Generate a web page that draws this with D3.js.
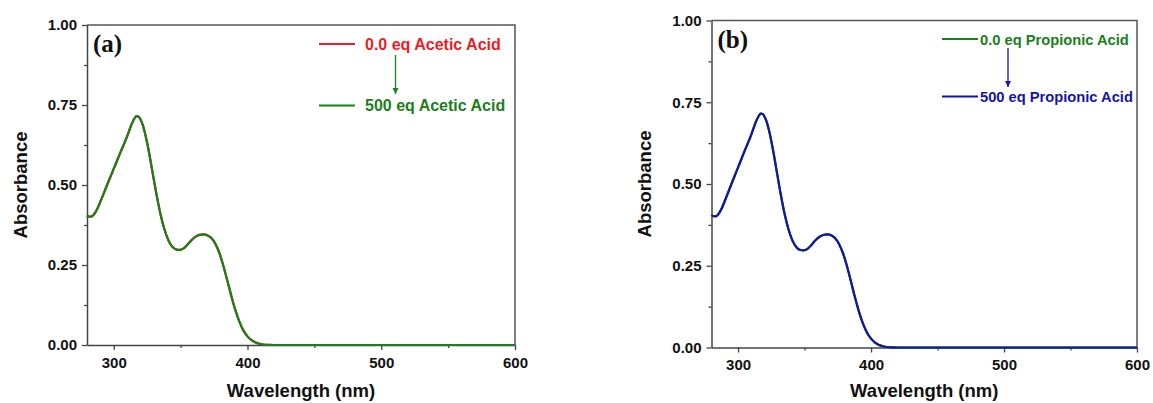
<!DOCTYPE html>
<html>
<head>
<meta charset="utf-8">
<script src="https://cdn.jsdelivr.net/npm/d3@7"></script>
<style>
  body { margin: 0; background: #fff; }
  svg { display: block; }
  text { font-family: Arial, "Liberation Sans", sans-serif; font-weight: bold; }
</style>
</head>
<body>
<svg id="chart" width="1153" height="403"></svg>
<script>
// UV-vis absorption spectra: wavelength (nm) vs absorbance
const wavelength = [280, 281, 283, 285, 288, 290, 295, 300, 305, 310, 312, 314, 315.5, 317, 318.5, 320, 321.5, 323, 326,
  329, 332, 335, 338, 341, 344, 347, 349, 352, 355, 358, 361, 364, 367, 370, 373, 376, 379, 382, 385, 388, 391, 394,
  397, 400, 403, 406, 409, 412, 416, 420, 450, 500, 550, 600];
const absAcetic0 = [0.405, 0.402, 0.401, 0.407, 0.428, 0.448, 0.5, 0.551, 0.602, 0.652, 0.675, 0.696, 0.708, 0.715,
  0.714, 0.705, 0.69, 0.668, 0.61, 0.54, 0.47, 0.408, 0.36, 0.326, 0.306, 0.298, 0.297, 0.301, 0.313, 0.327, 0.338,
  0.344, 0.346, 0.343, 0.334, 0.316, 0.287, 0.247, 0.2, 0.152, 0.108, 0.072, 0.045, 0.027, 0.015, 0.008, 0.004,
  0.0015, 0.0004, 0, 0, 0, 0, 0];
const absAcetic500 = [0.405, 0.402, 0.401, 0.407, 0.428, 0.448, 0.5, 0.551, 0.602, 0.652, 0.675, 0.696, 0.708, 0.715,
  0.714, 0.705, 0.69, 0.668, 0.61, 0.54, 0.47, 0.408, 0.36, 0.326, 0.306, 0.298, 0.297, 0.301, 0.313, 0.327, 0.338,
  0.344, 0.346, 0.343, 0.334, 0.316, 0.287, 0.247, 0.2, 0.152, 0.108, 0.072, 0.045, 0.027, 0.015, 0.008, 0.004,
  0.0015, 0.0004, 0, 0, 0, 0, 0];
const absPropionic0 = absAcetic0.slice();
const absPropionic500 = absAcetic500.slice();

const xTicks = [300, 400, 500, 600];
const xMinorTicks = [350, 450, 550];
const yTicks = [0, 0.25, 0.5, 0.75, 1.0];
const yMinorTicks = [0.125, 0.375, 0.625, 0.875];

const RED = "#ec1c24", GREEN = "#1a801a", BLUE = "#1414a6";

const panels = [
  {
    tag: "(a)", left: 87, right: 515, top: 25, bottom: 345, yTitleX: 20, legendSize: 16,
    series: [
      { name: "0.0 eq Acetic Acid", values: absAcetic0, color: RED },
      { name: "500 eq Acetic Acid", values: absAcetic500, color: GREEN }
    ],
    legend: { x1: 319, x2: 355, tx: 365, y1: 44, y2: 105.5, ax: 395.5, ay1: 55, ay2: 94, arrow: GREEN }
  },
  {
    tag: "(b)", left: 711.5, right: 1137, top: 20.5, bottom: 347.5, yTitleX: 644, legendSize: 14.7,
    series: [
      { name: "0.0 eq Propionic Acid", values: absPropionic0, color: GREEN },
      { name: "500 eq Propionic Acid", values: absPropionic500, color: BLUE }
    ],
    legend: { x1: 942, x2: 978, tx: 980, y1: 39, y2: 96.5, ax: 1008, ay1: 48, ay2: 87, arrow: BLUE }
  }
];

const svg = d3.select("#chart");
const defs = svg.append("defs");
panels.forEach((p, i) => {
  defs.append("marker").attr("id", "head" + i)
    .attr("viewBox", "0 0 10 10").attr("refX", 10).attr("refY", 5)
    .attr("markerWidth", 6).attr("markerHeight", 8).attr("markerUnits", "userSpaceOnUse")
    .attr("orient", "auto")
    .append("path").attr("d", "M0,0 L10,5 L0,10 Z").attr("fill", p.legend.arrow);
});

const AXIS = "#444";

panels.forEach((p, i) => {
  const x = d3.scaleLinear().domain([280, 600]).range([p.left, p.right]);
  const y = d3.scaleLinear().domain([0, 1]).range([p.bottom, p.top]);
  const g = svg.append("g");

  // frame (top and right sides)
  g.append("path")
    .attr("d", `M${p.left},${p.top}H${p.right}V${p.bottom}`)
    .attr("fill", "none").attr("stroke", "#555").attr("stroke-width", 1.5);

  // minor ticks
  g.append("g").attr("transform", `translate(0,${p.bottom})`)
    .call(d3.axisBottom(x).tickValues(xMinorTicks).tickSize(3).tickFormat(""))
    .call(s => { s.select(".domain").remove(); s.selectAll("line").attr("stroke", AXIS).attr("stroke-width", 1.3); });
  g.append("g").attr("transform", `translate(${p.left},0)`)
    .call(d3.axisLeft(y).tickValues(yMinorTicks).tickSize(3).tickFormat(""))
    .call(s => { s.select(".domain").remove(); s.selectAll("line").attr("stroke", AXIS).attr("stroke-width", 1.3); });

  // major axes
  const xa = g.append("g").attr("transform", `translate(0,${p.bottom})`)
    .call(d3.axisBottom(x).tickValues(xTicks).tickSize(5).tickSizeOuter(0).tickPadding(7).tickFormat(d3.format("d")));
  const ya = g.append("g").attr("transform", `translate(${p.left},0)`)
    .call(d3.axisLeft(y).tickValues(yTicks).tickSize(5).tickSizeOuter(0).tickPadding(5).tickFormat(d3.format(".2f")));
  [xa, ya].forEach(a => {
    a.select(".domain").attr("stroke", AXIS).attr("stroke-width", 1.5);
    a.selectAll("line").attr("stroke", AXIS).attr("stroke-width", 1.3);
    a.selectAll("text").attr("fill", "#111").style("font-size", "15px")
      .style("font-family", "Arial, 'Liberation Sans', sans-serif").style("font-weight", "bold");
  });

  // axis titles
  g.append("text").attr("x", (p.left + p.right) / 2).attr("y", 397)
    .attr("text-anchor", "middle").attr("fill", "#111").style("font-size", "18.5px")
    .text("Wavelength (nm)");
  g.append("text").attr("transform", `translate(${p.yTitleX + 7},${(p.top + p.bottom) / 2}) rotate(-90)`)
    .attr("text-anchor", "middle").attr("fill", "#111").style("font-size", "18.5px")
    .text("Absorbance");

  // panel tag
  g.append("text").attr("x", p.left + 6).attr("y", p.top + 27)
    .attr("fill", "#111").style("font-family", "'Liberation Serif', 'Times New Roman', serif")
    .style("font-size", "25px").text(p.tag);

  // spectra
  const line = d3.line().x((d, k) => x(wavelength[k])).y(d => y(d)).curve(d3.curveMonotoneX);
  p.series.forEach(s => {
    g.append("path").datum(s.values).attr("d", line)
      .attr("fill", "none").attr("stroke", s.color).attr("stroke-width", 2.2)
      .attr("stroke-linejoin", "round");
  });

  // legend
  const L = p.legend;
  [L.y1, L.y2].forEach((ly, k) => {
    const s = p.series[k];
    g.append("line").attr("x1", L.x1).attr("x2", L.x2).attr("y1", ly).attr("y2", ly)
      .attr("stroke", s.color).attr("stroke-width", 2);
    g.append("text").attr("x", L.tx).attr("y", ly + 5.5).attr("fill", s.color)
      .style("font-size", p.legendSize + "px").text(s.name);
  });
  g.append("line").attr("x1", L.ax).attr("x2", L.ax).attr("y1", L.ay1).attr("y2", L.ay2)
    .attr("stroke", L.arrow).attr("stroke-width", 1.3).attr("marker-end", `url(#head${i})`);
});
</script>
</body>
</html>
